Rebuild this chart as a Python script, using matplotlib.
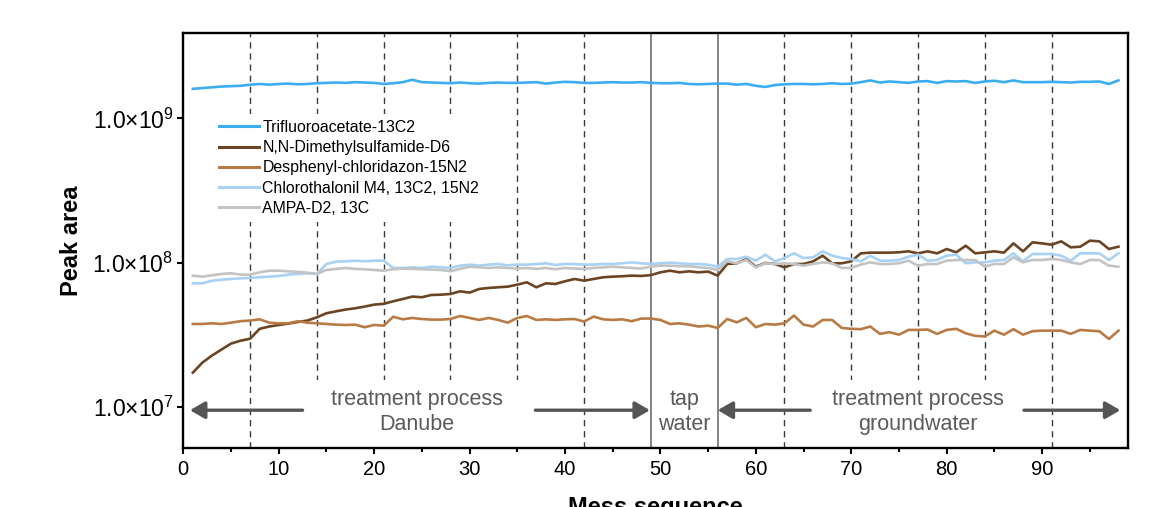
import matplotlib
matplotlib.use("Agg")
import matplotlib.pyplot as plt
from matplotlib.patches import Rectangle
from matplotlib.ticker import FixedLocator, NullLocator, MultipleLocator

plt.rcParams['font.family'] = ['Liberation Sans', 'DejaVu Sans']
plt.rcParams['mathtext.fontset'] = 'custom'
plt.rcParams['mathtext.rm'] = 'Liberation Sans'
plt.rcParams['mathtext.it'] = 'Liberation Sans:italic'
plt.rcParams['mathtext.bf'] = 'Liberation Sans:bold'

# ---------------- data ----------------
mess_sequence = list(range(1, 99))

# Trifluoroacetate-13C2 (x 1e9)
tfa = [1.60, 1.62, 1.64, 1.66, 1.67, 1.68, 1.71, 1.73, 1.71, 1.73,
       1.74, 1.72, 1.73, 1.75, 1.76, 1.77, 1.76, 1.78, 1.77, 1.76,
       1.73, 1.75, 1.78, 1.85, 1.78, 1.77, 1.76, 1.75, 1.77, 1.75,
       1.74, 1.76, 1.77, 1.76, 1.76, 1.77, 1.78, 1.74, 1.77, 1.79,
       1.78, 1.76, 1.76, 1.77, 1.78, 1.77, 1.77, 1.78, 1.76, 1.75,
       1.75, 1.76, 1.73, 1.72, 1.73, 1.74, 1.74, 1.71, 1.73, 1.68,
       1.65, 1.70, 1.72, 1.73, 1.73, 1.72, 1.73, 1.75, 1.73, 1.74,
       1.78, 1.83, 1.77, 1.80, 1.78, 1.76, 1.80, 1.81, 1.76, 1.81,
       1.80, 1.81, 1.76, 1.80, 1.82, 1.78, 1.83, 1.78, 1.78, 1.78,
       1.79, 1.78, 1.77, 1.79, 1.79, 1.80, 1.73, 1.83]

# N,N-Dimethylsulfamide-D6 (x 1e7)
dms = [1.73, 2.03, 2.27, 2.50, 2.75, 2.88, 2.97, 3.48, 3.61, 3.70,
       3.78, 3.88, 3.97, 4.18, 4.46, 4.60, 4.73, 4.83, 4.96, 5.12,
       5.18, 5.40, 5.60, 5.82, 5.76, 5.97, 6.00, 6.07, 6.33, 6.20,
       6.57, 6.68, 6.75, 6.82, 7.04, 7.31, 6.75, 7.19, 7.12, 7.43,
       7.71, 7.50, 7.71, 7.92, 8.00, 8.05, 8.13, 8.09, 8.20, 8.57,
       8.80, 8.57, 8.71, 8.57, 8.67, 8.13, 9.79, 9.90, 10.60, 9.38,
       9.95, 9.79, 9.28, 9.79, 9.79, 10.21, 11.18, 9.90, 9.90, 10.21,
       11.60, 11.73, 11.73, 11.73, 11.80, 11.98, 11.60, 11.98, 11.60, 12.43,
       11.79, 13.10, 11.60, 11.79, 11.98, 11.73, 13.60, 11.98, 13.83, 13.60,
       13.32, 14.05, 12.77, 12.90, 14.20, 14.05, 12.43, 12.90]

# Desphenyl-chloridazon-15N2 (x 1e7)
dpc = [3.76, 3.76, 3.80, 3.76, 3.84, 3.93, 3.97, 4.05, 3.84, 3.80,
       3.80, 3.93, 3.84, 3.80, 3.76, 3.72, 3.70, 3.72, 3.57, 3.70,
       3.66, 4.22, 4.05, 4.14, 4.07, 4.03, 4.03, 4.07, 4.27, 4.14,
       4.01, 4.14, 4.01, 3.84, 4.14, 4.27, 4.01, 4.05, 4.01, 4.05,
       4.07, 3.91, 4.23, 4.05, 4.01, 4.05, 3.93, 4.10, 4.10, 4.01,
       3.76, 3.80, 3.72, 3.61, 3.66, 3.53, 4.07, 3.86, 4.14, 3.57,
       3.76, 3.72, 3.80, 4.30, 3.72, 3.61, 4.01, 4.01, 3.53, 3.48,
       3.46, 3.61, 3.21, 3.30, 3.17, 3.42, 3.42, 3.44, 3.21, 3.42,
       3.48, 3.24, 3.11, 3.08, 3.38, 3.17, 3.46, 3.17, 3.35, 3.38,
       3.38, 3.38, 3.21, 3.42, 3.38, 3.35, 2.96, 3.38]

# Chlorothalonil M4, 13C2, 15N2 (x 1e7)
chl = [7.19, 7.19, 7.50, 7.62, 7.71, 7.79, 7.83, 7.92, 8.00, 8.09,
       8.26, 8.35, 8.44, 8.35, 9.79, 10.16, 10.21, 10.32, 10.21, 10.32,
       10.32, 9.19, 9.19, 9.28, 9.19, 9.38, 9.28, 9.19, 9.53, 9.69,
       9.53, 9.69, 9.79, 9.59, 9.69, 9.69, 9.79, 9.90, 9.64, 9.79,
       9.79, 9.69, 9.69, 9.79, 9.79, 9.90, 10.05, 9.90, 9.79, 9.90,
       10.00, 9.90, 9.79, 9.79, 9.69, 9.38, 10.60, 10.60, 11.00, 10.32,
       11.36, 10.21, 10.77, 11.60, 10.77, 10.89, 11.98, 11.18, 10.77, 10.60,
       10.21, 11.18, 10.32, 10.32, 10.43, 11.00, 11.36, 10.32, 10.43, 11.18,
       11.36, 9.90, 10.05, 10.05, 10.32, 10.43, 11.60, 10.21, 11.48, 11.48,
       11.48, 11.18, 10.32, 11.60, 11.60, 11.60, 10.43, 11.60]

# AMPA-D2, 13C (x 1e7)
ampa = [8.13, 8.00, 8.17, 8.35, 8.44, 8.26, 8.26, 8.57, 8.80, 8.80,
        8.71, 8.62, 8.53, 8.35, 8.90, 9.05, 9.19, 9.05, 9.00, 8.90,
        8.80, 9.00, 9.10, 9.05, 9.00, 8.95, 8.90, 8.71, 9.05, 9.38,
        9.28, 9.19, 9.28, 9.19, 9.10, 9.19, 9.05, 9.19, 9.00, 9.19,
        9.10, 9.05, 9.19, 9.28, 9.38, 9.28, 9.19, 9.10, 9.38, 9.53,
        9.53, 9.45, 9.45, 9.30, 9.19, 8.90, 10.21, 9.90, 10.43, 9.28,
        9.90, 9.79, 9.90, 9.79, 9.53, 9.79, 10.05, 9.90, 9.19, 9.19,
        9.69, 10.05, 9.79, 9.79, 9.90, 10.32, 9.53, 9.79, 9.79, 10.32,
        10.43, 10.43, 10.43, 9.38, 9.79, 9.79, 10.89, 10.05, 10.43, 10.43,
        10.60, 10.43, 10.05, 9.79, 10.43, 10.43, 9.53, 9.38]

series_names = ["Trifluoroacetate-13C2", "N,N-Dimethylsulfamide-D6",
                "Desphenyl-chloridazon-15N2", "Chlorothalonil M4, 13C2, 15N2",
                "AMPA-D2, 13C"]
series_scale = [1e9, 1e7, 1e7, 1e7, 1e7]
series_values = [tfa, dms, dpc, chl, ampa]
series_colors = ["#3AAEEF", "#6B4523", "#B87B45", "#A8D1F4", "#C3C3C3"]

dashed_at = [7, 14, 21, 28, 35, 42, 63, 70, 77, 84, 91]
solid_at = [49, 56]
yticks = [1e7, 1e8, 1e9]
ytick_labels = [r"1.0×10$^{7}$", r"1.0×10$^{8}$", r"1.0×10$^{9}$"]

# ---------------- figure ----------------
fig = plt.figure(figsize=(11.55, 5.07), dpi=100)
ax = fig.add_axes([0.1587, 0.1164, 0.8179, 0.8185])

ymin, ymax = 5.2e6, 3.9e9
ax.set_yscale('log')
ax.set_xlim(0, 99)
ax.set_ylim(ymin, ymax)

for xv in dashed_at:
    ax.axvline(xv, color='#3a3a3a', lw=1.0, ls=(0, (4.5, 3.5)), zorder=1)
for xv in solid_at:
    ax.axvline(xv, color='#7a7a7a', lw=1.3, zorder=1)

for name, vals, sc, col in zip(series_names, series_values, series_scale, series_colors):
    ax.plot(mess_sequence, [v * sc for v in vals], color=col, lw=1.9,
            label=name, zorder=3, solid_joinstyle='round')

# white boxes behind the annotation texts
box_top = 1.54e7
for x0, x1 in [(12.7, 36.8), (65.9, 88.0)]:
    ax.add_patch(Rectangle((x0, ymin), x1 - x0, box_top - ymin,
                           facecolor='white', edgecolor='none', zorder=2))

arrow_y = 9.5e6
arrow_kw = dict(arrowstyle='-|>,head_length=0.45,head_width=0.26',
                color='#555555', lw=2.4, mutation_scale=20,
                shrinkA=0, shrinkB=0)
for tail, head in [(12.5, 0.7), (36.9, 48.9), (65.7, 56.0), (88.1, 98.2)]:
    ax.annotate('', xy=(head, arrow_y), xytext=(tail, arrow_y),
                arrowprops=arrow_kw, zorder=4)

txt_kw = dict(color='#5a5a5a', fontsize=15.5, ha='center', va='center',
              linespacing=1.27, zorder=5)
ax.text(24.5, 9.2e6, "treatment process\nDanube", **txt_kw)
ax.text(52.5, 9.2e6, "tap\nwater", **txt_kw)
ax.text(77.0, 9.2e6, "treatment process\ngroundwater", **txt_kw)

ax.yaxis.set_major_locator(FixedLocator(yticks))
ax.set_yticklabels(ytick_labels)
ax.yaxis.set_minor_locator(NullLocator())
ax.xaxis.set_major_locator(MultipleLocator(10))
ax.xaxis.set_minor_locator(MultipleLocator(5))

ax.tick_params(axis='both', which='major', direction='out', length=4,
               width=1.5, labelsize=14.5, color='black')
ax.tick_params(axis='x', which='major', pad=5)
ax.tick_params(axis='y', which='major', labelsize=16.5, pad=3)
ax.tick_params(axis='x', which='minor', direction='out', length=3, width=1.5)
for sp in ax.spines.values():
    sp.set_linewidth(1.7)
    sp.set_color('black')

ax.set_ylabel("Peak area", fontsize=17, fontweight='bold', labelpad=7)
ax.set_xlabel("Mess sequence", fontsize=17, fontweight='bold', labelpad=12)

leg = ax.legend(loc='upper left', bbox_to_anchor=(0.031, 0.806),
                borderaxespad=0, fontsize=11.4, handlelength=2.5,
                handletextpad=0.25, labelspacing=0.33, borderpad=0.4,
                frameon=True, fancybox=False, framealpha=1)
leg.get_frame().set_facecolor('white')
leg.get_frame().set_edgecolor('none')
leg.set_zorder(6)
for ln in leg.get_lines():
    ln.set_linewidth(2.2)

fig.savefig("out.png", dpi=100)
